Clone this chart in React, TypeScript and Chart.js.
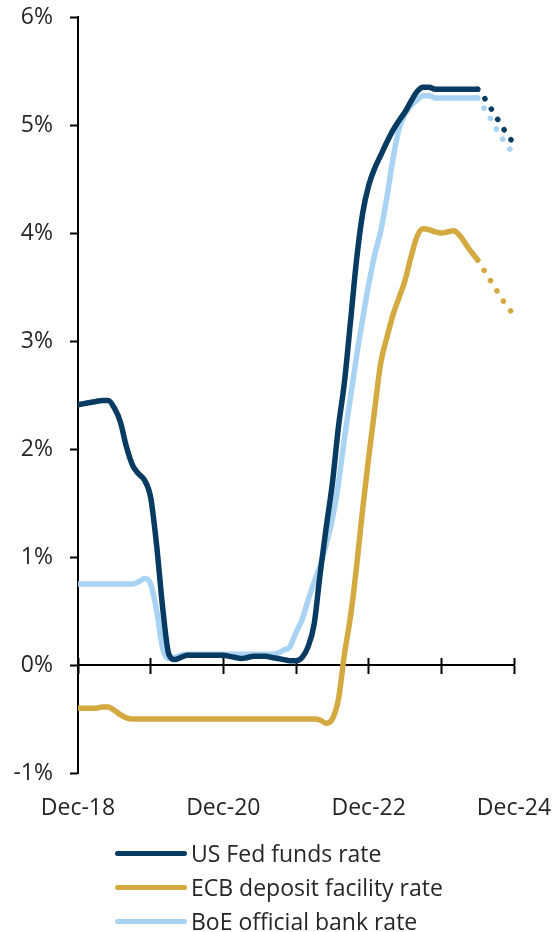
import React, { useEffect, useRef } from 'react';
import { Chart, registerables } from 'chart.js';

Chart.register(...registerables);

// Month index 0 = Dec-18 ... 72 = Dec-24
const tickLabels = ['Dec-18', 'Dec-19', 'Dec-20', 'Dec-21', 'Dec-22', 'Dec-23', 'Dec-24'];
const LAST_ACTUAL = 66; // Jun-24: projections (dotted) after this point

const fedRate = [
  2.41, 2.42, 2.43, 2.44, 2.45, 2.45, 2.38, 2.25, 2.02, 1.85, 1.77, 1.71, 1.55,
  1.10, 0.52, 0.10, 0.05, 0.07, 0.09, 0.09, 0.09, 0.09, 0.09, 0.09, 0.09,
  0.08, 0.07, 0.06, 0.07, 0.08, 0.08, 0.08, 0.07, 0.06, 0.05, 0.04, 0.04,
  0.07, 0.17, 0.38, 0.85, 1.28, 1.68, 2.20, 2.62, 3.18, 3.75, 4.18, 4.44,
  4.60, 4.72, 4.84, 4.95, 5.04, 5.12, 5.22, 5.31, 5.35, 5.35, 5.33, 5.33,
  5.33, 5.33, 5.33, 5.33, 5.33, 5.33, 5.26, 5.17, 5.08, 4.99, 4.90, 4.83,
];

const ecbRate = [
  -0.40, -0.40, -0.40, -0.40, -0.39, -0.39, -0.42, -0.46, -0.49, -0.50, -0.50, -0.50, -0.50,
  -0.50, -0.50, -0.50, -0.50, -0.50, -0.50, -0.50, -0.50, -0.50, -0.50, -0.50, -0.50,
  -0.50, -0.50, -0.50, -0.50, -0.50, -0.50, -0.50, -0.50, -0.50, -0.50, -0.50, -0.50,
  -0.50, -0.50, -0.50, -0.51, -0.54, -0.50, -0.32, 0.10, 0.45, 0.91, 1.44, 1.92,
  2.37, 2.80, 3.03, 3.24, 3.40, 3.56, 3.78, 3.97, 4.04, 4.03, 4.01, 4.00,
  4.01, 4.02, 3.98, 3.90, 3.82, 3.75, 3.66, 3.57, 3.48, 3.39, 3.31, 3.24,
];

const boeRate = [
  0.75, 0.75, 0.75, 0.75, 0.75, 0.75, 0.75, 0.75, 0.75, 0.75, 0.77, 0.80, 0.75,
  0.50, 0.15, 0.06, 0.07, 0.09, 0.10, 0.10, 0.10, 0.10, 0.10, 0.10, 0.10,
  0.10, 0.10, 0.10, 0.10, 0.10, 0.10, 0.10, 0.10, 0.11, 0.14, 0.17, 0.30,
  0.42, 0.60, 0.77, 0.92, 1.12, 1.35, 1.68, 2.10, 2.48, 2.86, 3.20, 3.52,
  3.80, 4.02, 4.33, 4.68, 4.96, 5.10, 5.18, 5.23, 5.27, 5.27, 5.25, 5.25,
  5.25, 5.25, 5.25, 5.25, 5.25, 5.25, 5.16, 5.07, 4.97, 4.88, 4.80, 4.73,
];

const seriesNames = ['US Fed funds rate', 'ECB deposit facility rate', 'BoE official bank rate'];
const seriesValues = [fedRate, ecbRate, boeRate];
const seriesColors = ['#073b61', '#d4aa40', '#a9d3f2'];

const FONT = "'Open Sans', sans-serif";
const TEXT = '#262626';

const noPad = (s: any) => {
  s.paddingTop = 0;
  s.paddingBottom = 0;
  s.paddingLeft = 0;
  s.paddingRight = 0;
};

export default function App() {
  const ref = useRef<HTMLCanvasElement>(null);

  useEffect(() => {
    const canvas = ref.current;
    if (!canvas) return;
    const chart = new Chart(canvas, {
      type: 'line',
      data: {
        datasets: seriesNames.map((name, k) => ({
          label: name,
          data: seriesValues[k].map((v, i) => ({ x: i, y: v })),
          borderColor: seriesColors[k],
          backgroundColor: seriesColors[k],
          borderWidth: 5.5,
          borderCapStyle: 'round',
          borderJoinStyle: 'round',
          pointRadius: 0,
          cubicInterpolationMode: 'monotone',
          segment: {
            borderDash: (ctx: any) => (ctx.p0DataIndex >= LAST_ACTUAL ? [0.1, 12] : undefined),
          },
        })) as any,
      },
      options: {
        animation: false,
        responsive: false,
        devicePixelRatio: 1,
        layout: { padding: { top: 17, right: 42, bottom: 0, left: 0 } },
        plugins: { legend: { display: false }, tooltip: { enabled: false } },
        scales: {
          x: {
            type: 'linear',
            position: 'bottom',
            min: 0,
            max: 72,
            border: { display: false },
            grid: { display: false, drawTicks: false },
            ticks: {
              stepSize: 12,
              autoSkip: false,
              maxRotation: 0,
              padding: 22,
              color: TEXT,
              font: { family: FONT, size: 23 },
              callback: (v: any) => {
                const i = Math.round(Number(v) / 12);
                return i % 2 === 0 ? tickLabels[i] : '';
              },
            },
            afterFit: (s: any) => {
              s.height = 67;
              noPad(s);
            },
          },
          x0: {
            type: 'linear',
            position: { y: 0 } as any,
            min: 0,
            max: 72,
            ticks: { display: false, stepSize: 12 },
            grid: { drawOnChartArea: false, drawTicks: true, tickLength: 8, tickWidth: 2, tickColor: '#000' },
            border: { display: true, color: '#000', width: 2 },
            afterFit: noPad,
          },
          x0up: {
            type: 'linear',
            position: { y: 0 } as any,
            min: 0,
            max: 72,
            ticks: { display: false, stepSize: 12 },
            grid: { drawOnChartArea: false, drawTicks: true, tickLength: -7, tickWidth: 2, tickColor: '#000' },
            border: { display: false },
            afterFit: noPad,
          },
          y: {
            min: -1,
            max: 6,
            border: { color: '#000', width: 2 },
            grid: { drawOnChartArea: false, drawTicks: true, tickLength: 8, tickWidth: 2, tickColor: '#000' },
            ticks: {
              stepSize: 1,
              padding: 17,
              color: TEXT,
              font: { family: FONT, size: 23 },
              callback: (v: any) => `${v}%`,
            },
            afterFit: (s: any) => {
              s.width = 78;
              noPad(s);
            },
          },
        },
      } as any,
    });
    return () => chart.destroy();
  }, []);

  return (
    <div
      style={{
        position: 'absolute',
        left: 0,
        top: 0,
        width: 556,
        height: 932,
        background: '#fff',
        overflow: 'hidden',
        fontFamily: FONT,
      }}
    >
      <canvas
        ref={ref}
        width={556}
        height={840}
        style={{ position: 'absolute', left: 0, top: 0, width: 556, height: 840 }}
      />
      <div style={{ position: 'absolute', left: 115, top: 836 }}>
        {seriesNames.map((name, i) => (
          <div key={name} style={{ display: 'flex', alignItems: 'center', height: 34 }}>
            <span
              style={{
                display: 'inline-block',
                width: 72,
                height: 5,
                borderRadius: 3,
                background: seriesColors[i],
              }}
            />
            <span
              style={{
                marginLeft: 4,
                fontSize: 23,
                lineHeight: '34px',
                color: TEXT,
                whiteSpace: 'nowrap',
              }}
            >
              {name}
            </span>
          </div>
        ))}
      </div>
    </div>
  );
}
